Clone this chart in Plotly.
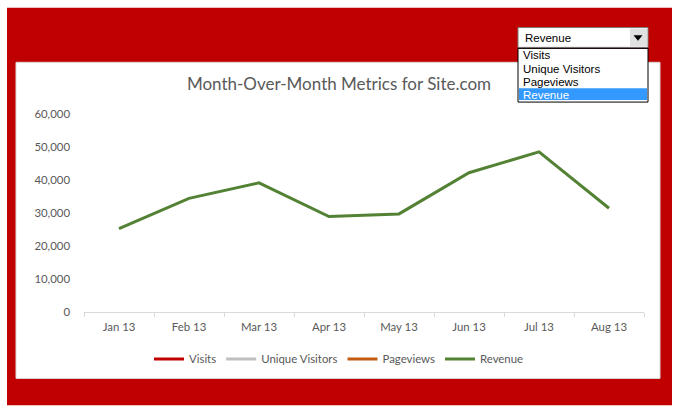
import plotly.graph_objects as go

months = ["Jan 13", "Feb 13", "Mar 13", "Apr 13", "May 13", "Jun 13", "Jul 13", "Aug 13"]
revenue = [25200, 34400, 39100, 28900, 29700, 42200, 48500, 31400]
series_names = ["Visits", "Unique Visitors", "Pageviews", "Revenue"]
series_colors = ["#C00000", "#BFBFBF", "#C55A11", "#548235"]
selected_series = "Revenue"
title_text = "Month-Over-Month Metrics for Site.com"

W, H = 678, 414
L, R, T, B = 84, 34, 114, 101
PW, PH = W - L - R, H - T - B


def px(x):
    return (x - L) / PW


def py(y):
    return (H - B - y) / PH


def rect(x0, y0, x1, y1, fill, line_color=None, lw=0, layer="above"):
    return dict(type="rect", xref="paper", yref="paper",
                x0=px(x0), x1=px(x1), y0=py(y1), y1=py(y0),
                fillcolor=fill, layer=layer,
                line=dict(color=line_color or fill, width=lw))


fig = go.Figure()
for name, color in zip(series_names, series_colors):
    if name == selected_series:
        ys = revenue
    else:
        ys = [None] * len(months)  # series not selected in the dropdown
    fig.add_trace(go.Scatter(x=months, y=ys, mode="lines", name=name,
                             line=dict(color=color, width=3), hoverinfo="x+y+name"))

shapes = [
    rect(7, 7, 672, 407, "#C00000", layer="below"),
    rect(16, 62, 660, 380, "#FFFFFF", "#D9D9D9", 1, layer="below"),
    # dropdown combo box
    rect(518, 27, 648, 47, "#FFFFFF", "#7A7A7A", 1),
    rect(630, 28, 647, 46, "#E1E1E1"),
    # list box
    rect(518, 48, 648, 102, "#FFFFFF", "#000000", 1),
    rect(519, 88, 647, 100, "#3399FF"),
]
tri = "M {} {} L {} {} L {} {} Z".format(px(634), py(35), px(642), py(35), px(638), py(40))
shapes.append(dict(type="path", xref="paper", yref="paper", path=tri,
                   fillcolor="#000000", line=dict(color="#000000", width=0.5)))

annotations = [dict(xref="paper", yref="paper", x=px(523), y=py(37.5), text=selected_series,
                    showarrow=False, xanchor="left", yanchor="middle",
                    font=dict(family="Liberation Sans", size=11.5, color="#000000"))]
item_ys = [55, 68.5, 81.5, 94.5]
for name, yy in zip(series_names, item_ys):
    annotations.append(dict(xref="paper", yref="paper", x=px(521), y=py(yy), text=name,
                            showarrow=False, xanchor="left", yanchor="middle",
                            font=dict(family="Liberation Sans", size=11.5,
                                      color="#FFFFFF" if name == selected_series else "#000000")))

fig.update_layout(
    width=W, height=H,
    margin=dict(l=L, r=R, t=T, b=B),
    paper_bgcolor="#FFFFFF", plot_bgcolor="rgba(0,0,0,0)",
    font=dict(family="Lato", size=11.4, color="#595959"),
    title=dict(text=title_text, x=0.5, xref="container", xanchor="center",
               y=1 - 84 / H, yref="container", yanchor="middle",
               font=dict(family="Lato", size=17, color="#595959")),
    xaxis=dict(showgrid=False, showline=True, linecolor="#D9D9D9", linewidth=1,
               ticks="outside", ticklen=4, tickcolor="#D9D9D9", tickson="boundaries",
               ticklabelstandoff=4,
               tickfont=dict(size=11.4, color="#595959"), range=[-0.5, 7.5], fixedrange=True),
    yaxis=dict(range=[0, 60000], dtick=10000, tickformat=",", showgrid=False,
               showline=False, zeroline=False, ticks="", ticklabelstandoff=13,
               tickfont=dict(size=11.4, color="#595959"), fixedrange=True),
    showlegend=True,
    legend=dict(orientation="h", xref="container", yref="container",
                x=0.5, xanchor="center", y=1 - 359 / H, yanchor="middle",
                font=dict(size=11.4, color="#595959"), bgcolor="rgba(0,0,0,0)"),
    shapes=shapes,
    annotations=annotations,
)

fig.write_html("out.html", config={"displayModeBar": False},
               post_script="document.body.style.margin='0px';document.body.style.overflow='hidden';")
